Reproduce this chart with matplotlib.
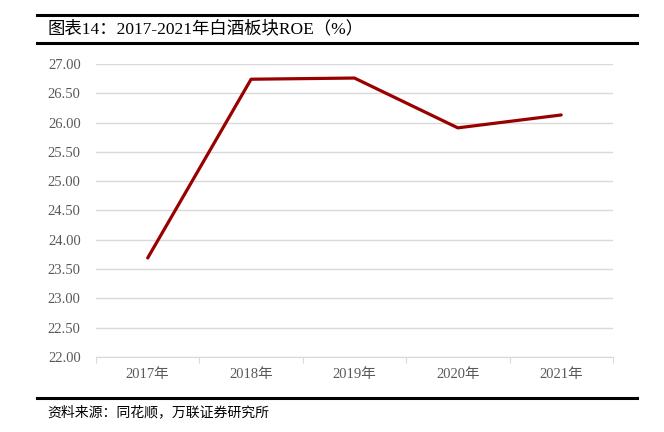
import matplotlib.pyplot as plt
from matplotlib.lines import Line2D

plt.rcParams['font.family'] = ['Liberation Serif', 'Noto Sans CJK SC', 'DejaVu Sans']

years = ['2017年', '2018年', '2019年', '2020年', '2021年']
roe = [23.69, 26.74, 26.76, 25.91, 26.13]
yticks = [22.0, 22.5, 23.0, 23.5, 24.0, 24.5, 25.0, 25.5, 26.0, 26.5, 27.0]

fig = plt.figure(figsize=(6.64, 4.32), dpi=100)
ax = fig.add_axes([0.1446, 0.1736, 0.7784, 0.6783])

x = list(range(len(years)))
ax.plot(x, roe, color='#990000', lw=2.3, solid_capstyle='round', zorder=3)

ax.set_xlim(-0.5, len(years) - 0.5)
ax.set_ylim(22, 27)
ax.set_yticks(yticks)
ax.set_yticklabels([f'{v:.2f}' for v in yticks], color='#595959', fontsize=10.5)
ax.yaxis.grid(True, color='#d9d9d9', lw=1)
ax.set_axisbelow(True)
ax.tick_params(axis='y', length=0, pad=11)

# category labels centred, tick marks on boundaries
ax.set_xticks([i - 0.5 for i in range(len(years) + 1)])
ax.set_xticklabels([])
ax.set_xticks(x, minor=True)
ax.set_xticklabels(years, minor=True, color='#595959', fontsize=10.5)
ax.tick_params(axis='x', which='major', length=4, color='#d9d9d9', direction='out')
ax.tick_params(axis='x', which='minor', length=0, pad=8)

for s in ['top', 'right', 'left']:
    ax.spines[s].set_visible(False)
ax.spines['bottom'].set_color('#d9d9d9')

# header / footer rules
for yy in [1 - 15 / 432, 1 - 43 / 432, 1 - 398 / 432]:
    fig.add_artist(Line2D([37 / 664, 637 / 664], [yy, yy], color='black', lw=2.2))

fig.text(47 / 664, 1 - 29 / 432, '图表14：2017-2021年白酒板块ROE（%）',
         fontsize=12.5, va='center', ha='left', color='black')
fig.text(47 / 664, 1 - 412 / 432, '资料来源：同花顺，万联证券研究所',
         fontsize=10, va='center', ha='left', color='black', style='italic')

fig.savefig('out.png', dpi=100)
